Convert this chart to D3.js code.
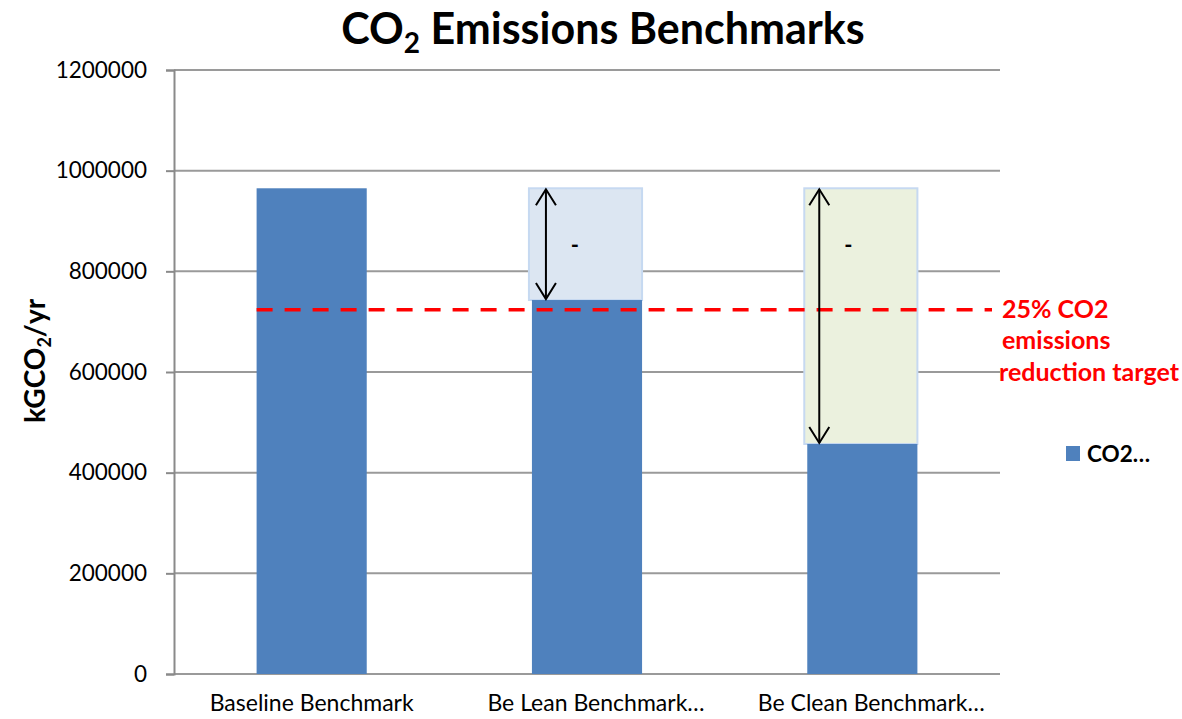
<!DOCTYPE html>
<html>
<head>
<meta charset="utf-8">
<script src="https://cdn.jsdelivr.net/npm/d3@7"></script>
<style>
  html, body { margin: 0; padding: 0; background: #fff; }
  svg { display: block; font-family: Lato, "Open Sans", sans-serif; }
</style>
</head>
<body>
<svg id="chart" width="1182" height="719"></svg>
<script>
// Benchmark categories and annual CO2 emissions (kgCO2/yr)
const categories = ["Baseline Benchmark", "Be Lean Benchmark…", "Be Clean Benchmark…"];
const co2Values = [965000, 743000, 457000];
// Baseline level shown as a pale envelope behind the improved benchmarks
const envelopeValues = [null, 965000, 965000];
const envelopeFills = [null, "#dce6f2", "#ebf1de"];
const reductionLabels = [null, "-", "-"];
// Target: 25% reduction from baseline
const targetReduction = 0.25;
const yTicks = [0, 200000, 400000, 600000, 800000, 1000000, 1200000];
const legendLabel = "CO2…";
const targetLabelLines = ["25% CO2", "emissions", "reduction target"];

const svg = d3.select("#chart");
const margin = { left: 174, right: 182, top: 70, bottom: 45 };
const W = 1182, H = 719;
const plotRight = W - margin.right;
const plotBottom = H - margin.bottom;

const x = d3.scaleBand().domain(categories).range([margin.left, plotRight]).paddingInner(0.6).paddingOuter(0.3);
const y = d3.scaleLinear().domain([0, 1200000]).range([plotBottom, margin.top]);

// Gridlines
svg.append("g").selectAll("line").data(yTicks).join("line")
  .attr("x1", margin.left).attr("x2", plotRight)
  .attr("y1", d => y(d)).attr("y2", d => y(d))
  .attr("stroke", "#9a9a9a").attr("stroke-width", 2);

// Y axis
const yAxis = svg.append("g").attr("transform", `translate(${margin.left},0)`)
  .call(d3.axisLeft(y).tickValues(yTicks).tickFormat(d3.format("d")).tickSize(8).tickPadding(19));
yAxis.select(".domain").attr("stroke", "#8a8a8a").attr("stroke-width", 2);
yAxis.selectAll(".tick line").attr("stroke", "#8a8a8a").attr("stroke-width", 2);
yAxis.selectAll(".tick text").attr("font-size", 22.5).attr("fill", "#000").attr("font-family", "Lato, sans-serif");

// Category labels (truncated labels sit slightly right of the band centre)
svg.append("g").selectAll("text").data(categories).join("text")
  .attr("x", d => x(d) + x.bandwidth() / 2)
  .attr("dx", d => d.endsWith("…") ? 9 : 0)
  .attr("y", 711)
  .attr("text-anchor", "middle")
  .attr("font-size", 23)
  .text(d => d);

// Baseline envelopes
const envData = categories.map((c, i) => ({ c, v: envelopeValues[i], base: co2Values[i], fill: envelopeFills[i], label: reductionLabels[i] }))
  .filter(d => d.v !== null);
svg.append("g").selectAll("rect").data(envData).join("rect")
  .attr("x", d => x(d.c) - 3)
  .attr("width", x.bandwidth() + 3)
  .attr("y", d => y(d.v))
  .attr("height", d => y(d.base) - y(d.v))
  .attr("fill", d => d.fill)
  .attr("stroke", "#c6d9f1")
  .attr("stroke-width", 2);

// Bars
svg.append("g").selectAll("rect").data(categories).join("rect")
  .attr("x", d => x(d))
  .attr("width", x.bandwidth())
  .attr("y", (d, i) => y(co2Values[i]))
  .attr("height", (d, i) => y(0) - y(co2Values[i]))
  .attr("fill", "#4f81bd");

// Target line
const baseline = co2Values[0];
const target = baseline * (1 - targetReduction);
svg.append("line")
  .attr("x1", x(categories[0])).attr("x2", plotRight - 8)
  .attr("y1", y(target)).attr("y2", y(target))
  .attr("stroke", "#ff0000").attr("stroke-width", 3.5)
  .attr("stroke-dasharray", "16 12");

svg.append("text")
  .attr("x", 1001).attr("y", y(target) + 8)
  .attr("fill", "#ff0000").attr("font-weight", "bold").attr("font-size", 25)
  .selectAll("tspan").data(targetLabelLines).join("tspan")
  .attr("x", (d, i) => i === 2 ? 999 : 1002)
  .attr("dy", (d, i) => i === 0 ? 0 : 31.5)
  .text(d => d);

// Double-headed arrows showing reduction
const arrows = svg.append("g");
envData.forEach(d => {
  const ax = d.c === categories[1] ? x(d.c) + 14 : x(d.c) + 12;
  const yt = y(d.v) + 1, yb = y(d.base) - 1;
  arrows.append("line").attr("x1", ax).attr("x2", ax).attr("y1", yt).attr("y2", yb)
    .attr("stroke", "#000").attr("stroke-width", 2);
  arrows.append("path").attr("d", `M${ax - 10},${yt + 16} L${ax},${yt} L${ax + 10},${yt + 16}`)
    .attr("fill", "none").attr("stroke", "#000").attr("stroke-width", 2);
  arrows.append("path").attr("d", `M${ax - 10},${yb - 16} L${ax},${yb} L${ax + 10},${yb - 16}`)
    .attr("fill", "none").attr("stroke", "#000").attr("stroke-width", 2);
  arrows.append("text").attr("x", ax + 29).attr("y", y(d.v) + 65)
    .attr("text-anchor", "middle").attr("font-size", 22).attr("font-weight", "bold").text(d.label);
});

// Legend
svg.append("rect").attr("x", 1066).attr("y", 446).attr("width", 14).attr("height", 15).attr("fill", "#4f81bd");
svg.append("text").attr("x", 1087).attr("y", 462).attr("font-size", 22.5).attr("font-weight", "bold").text(legendLabel);

// Title
const title = svg.append("text").attr("x", 603).attr("y", 44).attr("text-anchor", "middle")
  .attr("font-size", 43).attr("font-weight", "bold");
title.append("tspan").text("CO");
title.append("tspan").attr("font-size", 28).attr("dy", 9).text("2");
title.append("tspan").attr("dy", -9).text(" Emissions Benchmarks");

// Y axis title
const yt = svg.append("text").attr("transform", "translate(45,361) rotate(-90)").attr("text-anchor", "middle")
  .attr("font-size", 28).attr("font-weight", "bold");
yt.append("tspan").text("kGCO");
yt.append("tspan").attr("font-size", 18).attr("dy", 6).text("2");
yt.append("tspan").attr("dy", -6).text("/yr");
</script>
</body>
</html>
